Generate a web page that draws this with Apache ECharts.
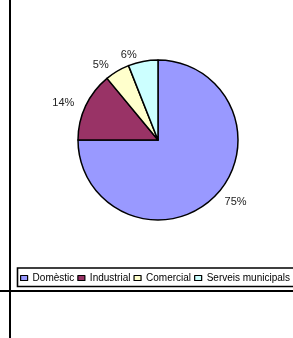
<!DOCTYPE html>
<html><head><meta charset="utf-8">
<script src="https://cdn.jsdelivr.net/npm/echarts@6/dist/echarts.min.js"></script>
<style>html,body{margin:0;padding:0;background:#fff;}#c{width:293px;height:338px;}</style>
</head><body><div id="c"></div>
<script>
const categories = ['Domèstic', 'Industrial', 'Comercial', 'Serveis municipals'];
const values = [75, 14, 5, 6];
const colors = ['#9999FF', '#993366', '#FFFFCC', '#CCFFFF'];

const chart = echarts.init(document.getElementById('c'), null, {renderer: 'canvas'});
chart.setOption({
  animation: false,
  backgroundColor: '#fff',
  color: colors,
  legend: {
    left: 20, top: 273, width: 600,
    itemWidth: 7, itemHeight: 5, itemGap: 3,
    icon: 'rect',
    itemStyle: {borderColor: '#000', borderWidth: 1.2},
    textStyle: {fontFamily: 'Liberation Sans', fontSize: 10, color: '#000'},
    padding: 0,
    data: categories
  },
  graphic: [
    {type: 'line', shape: {x1: 10, y1: 0, x2: 10, y2: 338}, style: {stroke: '#000', lineWidth: 2}},
    {type: 'line', shape: {x1: 0, y1: 291, x2: 293, y2: 291}, style: {stroke: '#000', lineWidth: 2}},
    {type: 'rect', shape: {x: 17.5, y: 268, width: 290, height: 18.5}, style: {fill: 'none', stroke: '#000', lineWidth: 1.6}}
  ],
  series: [{
    type: 'pie',
    center: [158, 140],
    radius: [0, 80],
    startAngle: 90,
    clockwise: true,
    avoidLabelOverlap: false,
    itemStyle: {borderColor: '#000', borderWidth: 1.5},
    label: {
      show: true, position: 'outside',
      formatter: '{d}%',
      fontFamily: 'Liberation Sans', fontSize: 11, color: '#222'
    },
    labelLine: {show: false, length: 7, length2: 0},
    emphasis: {disabled: true},
    data: categories.map((n, i) => ({name: n, value: values[i]}))
  }]
});
</script></body></html>
